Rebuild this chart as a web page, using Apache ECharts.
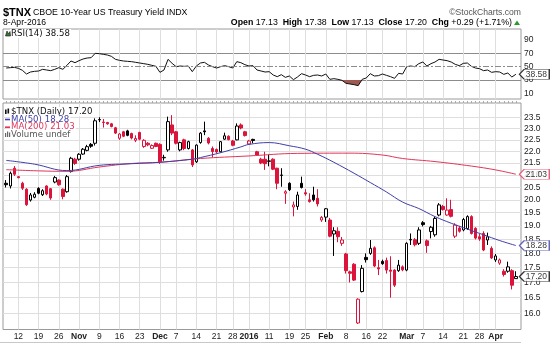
<!DOCTYPE html>
<html><head><meta charset="utf-8">
<script src="https://cdn.jsdelivr.net/npm/echarts@6/dist/echarts.min.js"></script>
<style>html,body{margin:0;padding:0;background:#fff}#c{width:550px;height:343px}</style>
</head><body><div id="c"></div>
<script>
const dates = ['10/7','10/8','10/9','10/12','10/13','10/14','10/15','10/16','10/19','10/20','10/21','10/22','10/23','10/26','10/27','10/28','10/29','10/30',
'11/2','11/3','11/4','11/5','11/6','11/9','11/10','11/11','11/12','11/13','11/16','11/17','11/18','11/19','11/20','11/23','11/24','11/25','11/27','11/30',
'12/1','12/2','12/3','12/4','12/7','12/8','12/9','12/10','12/11','12/14','12/15','12/16','12/17','12/18','12/21','12/22','12/23','12/24','12/28','12/29','12/30','12/31',
'1/4','1/5','1/6','1/7','1/8','1/11','1/12','1/13','1/14','1/15','1/19','1/20','1/21','1/22','1/25','1/26','1/27','1/28','1/29',
'2/1','2/2','2/3','2/4','2/5','2/8','2/9','2/10','2/11','2/12','2/16','2/17','2/18','2/19','2/22','2/23','2/24','2/25','2/26','2/29',
'3/1','3/2','3/3','3/4','3/7','3/8','3/9','3/10','3/11','3/14','3/15','3/16','3/17','3/18','3/21','3/22','3/23','3/24','3/28','3/29','3/30','3/31',
'4/1','4/4','4/5','4/6','4/7','4/8'];

const open = [20.66,20.55,21.28,20.93,20.66,20.42,19.99,20.10,20.45,20.20,20.55,20.44,20.71,20.79,20.42,20.32,21.14,21.66,
21.66,21.88,22.04,22.30,22.35,23.40,23.30,23.28,23.22,23.04,22.57,22.86,22.90,22.78,22.48,22.83,22.21,22.35,22.13,22.35,
22.30,21.72,22.06,23.17,22.86,22.06,22.50,22.12,22.06,21.55,22.38,22.90,22.57,22.12,22.08,21.98,22.53,22.66,22.45,22.50,23.17,22.86,
22.32,22.52,21.98,21.66,21.66,21.57,21.66,21.28,20.98,20.26,20.66,19.72,19.74,20.66,20.28,20.00,20.19,20.06,19.22,
19.33,19.22,18.70,18.80,18.36,17.98,17.36,17.62,15.70,16.70,17.86,18.00,18.20,17.50,17.72,17.75,17.42,17.42,17.40,17.53,
17.42,18.48,18.49,18.36,19.12,18.45,18.79,18.67,19.41,19.74,19.41,19.62,18.62,18.92,18.85,18.90,19.35,18.91,18.60,18.72,18.48,18.18,
17.77,17.66,17.38,17.38,17.40,17.13];
const high = [20.79,21.14,21.37,20.95,20.72,20.46,20.27,20.30,20.50,20.42,20.58,20.47,20.96,20.82,20.45,21.00,21.76,21.72,
21.92,22.14,22.28,22.36,23.47,23.52,23.44,23.31,23.26,23.08,22.80,22.90,22.95,22.82,22.70,22.86,22.53,22.40,22.30,22.38,
22.35,21.85,23.55,23.62,22.90,22.42,22.55,22.46,22.10,22.30,22.85,23.32,22.62,22.21,22.12,22.45,22.82,22.70,22.50,23.24,23.24,22.90,
22.50,22.55,22.02,21.72,21.98,21.87,21.70,21.30,21.28,20.38,20.70,19.93,20.32,20.93,20.42,20.26,20.52,20.42,19.37,
19.68,19.30,18.95,18.95,18.59,18.02,17.40,17.66,16.48,17.59,18.00,18.48,18.25,17.77,17.78,17.85,17.90,17.45,17.77,17.58,
18.40,18.72,18.55,18.95,19.18,18.50,19.00,19.35,19.87,19.80,20.06,20.00,19.10,19.00,19.30,19.40,19.40,18.95,18.70,18.80,18.75,18.25,
17.98,17.82,17.45,17.71,17.45,17.38];
const low = [20.49,20.45,20.96,20.86,20.39,19.76,19.93,20.06,20.22,20.15,20.18,20.00,20.66,20.56,20.02,20.28,21.10,21.42,
21.60,21.85,22.00,22.15,22.25,23.30,23.05,23.18,23.06,22.76,22.50,22.62,22.66,22.52,22.40,22.48,22.15,22.22,22.10,22.18,
21.46,21.60,21.98,22.71,22.30,22.00,22.05,22.08,21.33,21.50,22.33,22.71,22.30,21.73,21.92,21.95,22.50,22.48,22.22,22.48,22.97,22.65,
22.28,22.35,21.80,21.45,21.21,21.36,21.20,20.42,20.52,19.84,20.35,19.36,19.61,20.45,20.16,19.89,19.93,19.74,19.15,
19.15,18.58,17.91,18.40,18.27,17.30,17.00,17.05,15.67,16.67,17.68,17.95,17.52,17.25,17.60,17.30,16.50,16.85,17.36,17.38,
17.38,18.30,18.25,18.30,18.98,18.02,18.54,18.60,19.36,19.58,19.38,19.32,18.55,18.75,18.80,18.85,18.68,18.50,18.45,18.08,18.30,17.80,
17.70,17.60,17.20,17.33,16.77,17.13];
const close = [20.60,21.07,21.03,20.89,20.46,19.81,20.19,20.22,20.26,20.36,20.23,20.07,20.89,20.60,20.13,20.93,21.70,21.48,
21.87,22.09,22.20,22.22,23.36,23.42,23.28,23.22,23.10,22.80,22.76,22.66,22.70,22.58,22.56,22.53,22.48,22.28,22.25,22.21,
21.55,21.74,23.32,22.80,22.35,22.38,22.12,22.42,21.42,22.27,22.80,22.86,22.36,21.99,21.97,22.42,22.68,22.51,22.26,23.12,23.03,22.69,
22.45,22.47,21.84,21.50,21.47,21.59,21.24,20.66,21.00,20.32,20.40,19.80,20.19,20.49,20.23,19.93,20.00,19.84,19.32,
19.65,18.62,18.82,18.60,18.48,17.40,17.31,17.08,16.45,17.48,17.78,18.18,17.56,17.46,17.64,17.42,17.38,16.91,17.59,17.43,
18.36,18.50,18.31,18.85,19.05,18.28,18.95,19.28,19.80,19.62,19.60,19.36,19.03,18.80,19.24,19.35,18.72,18.55,18.52,18.12,18.60,17.84,
17.91,17.77,17.27,17.53,16.91,17.20];
const prevCloseStart = 20.50;

const rsi = [48,48.5,49,47.5,44.5,39,42,43,43.5,46,45,44,46,48.5,46,52,58.5,56,
59,61.5,63,63.5,70,69.5,68.5,67.5,65.5,61,59.5,58.5,58,57.5,56.5,55.5,54.5,53.5,52,50.5,
41.5,45,61,55,50,51,50.5,51,42.5,51,55.5,56.5,52.5,50,48,50,51.5,50,48,57.5,56,53,
51,51.5,45,43.5,42,42.5,37.5,35,38,34,36,30.5,34.5,39.5,37.5,35,37,37.5,36,
39,31,32,31,29.5,25,24,23,21.5,31,33,39.5,36,36.5,39,37,35,32.5,40,39,
50,51,50,54.5,57,51,54.5,57,61,60,59,57,53.5,51.5,55,55.5,50.5,48,47,44,45,41.5,
42.5,42,38.5,40.5,34.5,38.58];

const ma50Dates = ['10/7','10/16','10/28','11/9','11/19','12/1','12/11','12/15','12/22','12/30','1/4','1/11','1/19','1/25','1/28','2/3','2/10','2/17','2/23','2/29','3/4','3/10','3/16','3/22','3/29','4/4','4/8'];
const ma50Values = [21.61,21.45,21.18,21.40,21.47,21.53,21.66,21.73,21.94,22.19,22.30,22.38,22.24,22.09,21.87,21.53,21.07,20.69,20.31,19.91,19.66,19.35,19.10,18.88,18.67,18.46,18.28];
const ma200Dates = ['10/7','10/19','10/28','11/9','11/19','12/1','12/15','1/4','1/21','2/9','2/22','2/29','3/10','3/23','4/1','4/8'];
const ma200Values = [21.22,21.17,21.15,21.33,21.48,21.53,21.69,21.80,21.91,21.92,21.84,21.69,21.56,21.37,21.21,21.03];

const priceTicks = [16.0,16.5,17.0,17.5,18.0,18.5,19.0,19.5,20.0,20.5,21.0,21.5,22.0,22.5,23.0,23.5];
const rsiTicks = [10,30,50,70,90];
const rsiBands = [30,70];
const xTickDates = ['10/12','10/19','10/26','11/2','11/9','11/16','11/23','12/1','12/7','12/14','12/21','12/28','1/4','1/11','1/19','1/25','2/1','2/8','2/16','2/22','3/1','3/7','3/14','3/21','3/28','4/1'];
const xTickLabels = ['12','19','26','Nov','9','16','23','Dec','7','14','21','28','2016','11','19','25','Feb','8','16','22','Mar','7','14','21','28','Apr'];

const FA = 'Liberation Sans, Arial, Helvetica, sans-serif';
const FV = 'DejaVu Sans, Verdana, sans-serif';
const RED = '#dc143c', BLUE = '#3f3fa8', MARED = '#e2365a';
const xTickIdx = xTickDates.map(d => dates.indexOf(d));
const allIdx = dates.map((d, i) => i);
const last = dates.length - 1;
const xMin = -0.8, xMax = 127.26;

const candles = dates.map((d, i) => {
  const pc = i === 0 ? prevCloseStart : close[i - 1];
  const stroke = close[i] >= pc ? '#000' : RED;
  const fill = close[i] > open[i] ? '#fff' : stroke;
  return { value: [i, open[i], close[i], low[i], high[i]],
    itemStyle: { color: fill, color0: fill, borderColor: stroke, borderColor0: stroke, borderColorDoji: stroke } };
});
const boxPath = 'path://M0,5L5,0L31,0L31,10L5,10Z';
function tag(gi, val, txt, border) {
  return { type: 'scatter', xAxisIndex: gi, yAxisIndex: gi, data: [[last, val]], z: 10,
    symbol: boxPath, symbolSize: [30, 10], symbolKeepAspect: false, symbolOffset: [18.5, 0],
    itemStyle: { color: '#fff', borderColor: border, borderWidth: 1 },
    label: { show: true, position: 'inside', offset: [2, 0.5], formatter: txt, color: '#000', fontSize: 8.5, fontFamily: FA },
    silent: true };
}

const xAxisBase = (gi) => ({
  type: 'value', gridIndex: gi, min: xMin, max: xMax,
  axisLine: { show: false },
  axisTick: { show: false, customValues: xTickIdx },
  splitLine: { show: true, lineStyle: { color: '#dedede', width: 1 } },
});
const legendText = (x, y, text, fill) => ({ type: 'text', x: x, y: y, z: 50,
  style: { text: text, font: '8.6px ' + FV, fill: fill, verticalAlign: 'middle', backgroundColor: '#fff', padding: [0, 1, 0, 1] } });

const option = {
  animation: false,
  backgroundColor: '#fff',
  grid: [
    { left: 3, width: 518, top: 29, height: 70, show: true, borderColor: '#9a9a9a', borderWidth: 1, backgroundColor: 'transparent' },
    { left: 3, width: 518, top: 103, height: 226.5, show: true, borderColor: '#9a9a9a', borderWidth: 1, backgroundColor: 'transparent' }
  ],
  xAxis: [
    Object.assign(xAxisBase(0), { axisLabel: { show: false } }),
    Object.assign(xAxisBase(1), {
      axisLabel: { show: true, customValues: xTickIdx, margin: 3, fontSize: 8.5, fontFamily: FA, color: '#222',
        formatter: v => { const t = xTickLabels[xTickIdx.indexOf(Math.round(v))]; return /^[0-9]{1,2}$/.test(t) ? t : '{b|' + t + '}'; },
        rich: { b: { fontWeight: 'bold', fontSize: 8.5, fontFamily: FA, color: '#222' } } } }),
    { type: 'value', gridIndex: 1, min: xMin, max: xMax, axisLine: { show: false }, splitLine: { show: false },
      axisLabel: { show: false }, axisTick: { show: true, customValues: allIdx, length: 2, lineStyle: { color: '#aaa' } } }
  ],
  yAxis: [
    { type: 'value', gridIndex: 0, position: 'right', min: 1.5, max: 106.5,
      axisLine: { show: false }, axisTick: { show: false, customValues: rsiBands },
      splitLine: { show: true, lineStyle: { color: '#8c8c8c', width: 1 } },
      axisLabel: { customValues: rsiTicks, margin: 3, fontSize: 8.5, fontFamily: FA, color: '#222' } },
    { type: 'log', logBase: 10, gridIndex: 1, position: 'right', min: 15.5, max: 24.19,
      axisLine: { show: false }, axisTick: { show: false, customValues: priceTicks },
      splitLine: { show: true, lineStyle: { color: '#dedede', width: 1 } },
      axisLabel: { customValues: priceTicks, margin: 3, fontSize: 8.5, fontFamily: FA, color: '#222', formatter: v => v.toFixed(1) } }
  ],
  series: [
    { type: 'line', xAxisIndex: 0, yAxisIndex: 0, data: rsi.map((v, i) => [i, Math.min(v, 30)]), symbol: 'none',
      lineStyle: { width: 0, opacity: 0 }, areaStyle: { origin: 30, color: '#9e5a52', opacity: 1 }, silent: true },
    { type: 'line', xAxisIndex: 0, yAxisIndex: 0, data: rsi.map((v, i) => [i, v]), symbol: 'none',
      lineStyle: { color: '#111', width: 1 },
      markLine: { silent: true, symbol: 'none', label: { show: false },
        lineStyle: { color: '#8c8c8c', width: 1, type: [6, 2, 2, 2] }, data: [{ yAxis: 50 }] } },
    tag(0, rsi[last], '38.58', '#000'),
    { type: 'candlestick', xAxisIndex: 1, yAxisIndex: 1, barWidth: 3,
      dimensions: ['x', 'open', 'close', 'lowest', 'highest'],
      encode: { x: 'x', y: ['open', 'close', 'lowest', 'highest'] },
      data: candles, itemStyle: { borderWidth: 1 } },
    { type: 'line', xAxisIndex: 1, yAxisIndex: 1, smooth: 0.4, symbol: 'none',
      data: ma200Dates.map((d, k) => [dates.indexOf(d), ma200Values[k]]), lineStyle: { color: MARED, width: 1 } },
    { type: 'line', xAxisIndex: 1, yAxisIndex: 1, smooth: 0.4, symbol: 'none',
      data: ma50Dates.map((d, k) => [dates.indexOf(d), ma50Values[k]]), lineStyle: { color: BLUE, width: 1 } },
    tag(1, ma200Values[ma200Values.length - 1], '21.03', MARED),
    tag(1, ma50Values[ma50Values.length - 1], '18.28', BLUE),
    tag(1, close[last], '17.20', '#000')
  ],
  graphic: [
    { type: 'text', x: 3, y: 12.5, style: { text: '$TNX', font: 'bold 11px ' + FA, fill: '#000', verticalAlign: 'middle' } },
    { type: 'text', x: 33, y: 12.5, style: { text: 'CBOE 10-Year US Treasury Yield INDX', font: '8.8px ' + FA, fill: '#000', verticalAlign: 'middle' } },
    { type: 'text', x: 3, y: 23, style: { text: '8-Apr-2016', font: '8.6px ' + FA, fill: '#000', verticalAlign: 'middle' } },
    { type: 'text', x: 521, y: 12.5, style: { text: '\u00A9StockCharts.com', font: '8.6px ' + FA, fill: '#555', align: 'right', verticalAlign: 'middle' } },
    { type: 'text', x: 512, y: 23, style: {
      text: '{b|Open} 17.13  {b|High} 17.38  {b|Low} 17.13  {b|Close} 17.20  {b|Chg} +0.29 (+1.71%)',
      font: '8.8px ' + FA, fill: '#000', align: 'right', verticalAlign: 'middle',
      rich: { b: { fontWeight: 'bold', fontSize: 8.8, fontFamily: FA, fill: '#000' } } } },
    { type: 'polygon', shape: { points: [[514, 25], [520, 25], [517, 20.5]] }, style: { fill: '#2a9a2a' } },
    { type: 'polygon', z: 51, shape: { points: [[5.5, 36], [7, 31], [8.5, 34], [10, 31.5], [10.5, 36]] }, style: { fill: '#3a7a3a', stroke: '#111', lineWidth: 0.6 } },
    legendText(10, 33.5, 'RSI(14) 38.58', '#111'),
    { type: 'rect', z: 51, shape: { x: 5, y: 109.5, width: 1.6, height: 4.5 }, style: { fill: '#111' } },
    { type: 'rect', z: 51, shape: { x: 7.5, y: 108.5, width: 1.6, height: 5 }, style: { fill: '#111' } },
    legendText(10, 111.8, '$TNX (Daily) 17.20', '#111'),
    { type: 'line', z: 51, shape: { x1: 5, y1: 119.5, x2: 10, y2: 119.5 }, style: { stroke: BLUE, lineWidth: 1.6 } },
    legendText(10, 119.5, 'MA(50) 18.28', BLUE),
    { type: 'line', z: 51, shape: { x1: 5, y1: 127.2, x2: 10, y2: 127.2 }, style: { stroke: MARED, lineWidth: 1.6 } },
    legendText(10, 127.2, 'MA(200) 21.03', MARED),
    { type: 'rect', z: 51, shape: { x: 5, y: 133, width: 1.2, height: 4 }, style: { fill: '#666' } },
    { type: 'rect', z: 51, shape: { x: 7, y: 131.5, width: 1.2, height: 5.5 }, style: { fill: '#666' } },
    { type: 'rect', z: 51, shape: { x: 9, y: 132.5, width: 1.2, height: 4.5 }, style: { fill: '#666' } },
    legendText(10, 135, 'Volume undef', '#555'),
    { type: 'line', shape: { x1: 0, y1: 342.5, x2: 521, y2: 342.5 }, style: { stroke: '#c8c8c8', lineWidth: 1 } }
  ]
};
const chart = echarts.init(document.getElementById('c'), null, { renderer: 'canvas' });
chart.setOption(option);
</script></body></html>
